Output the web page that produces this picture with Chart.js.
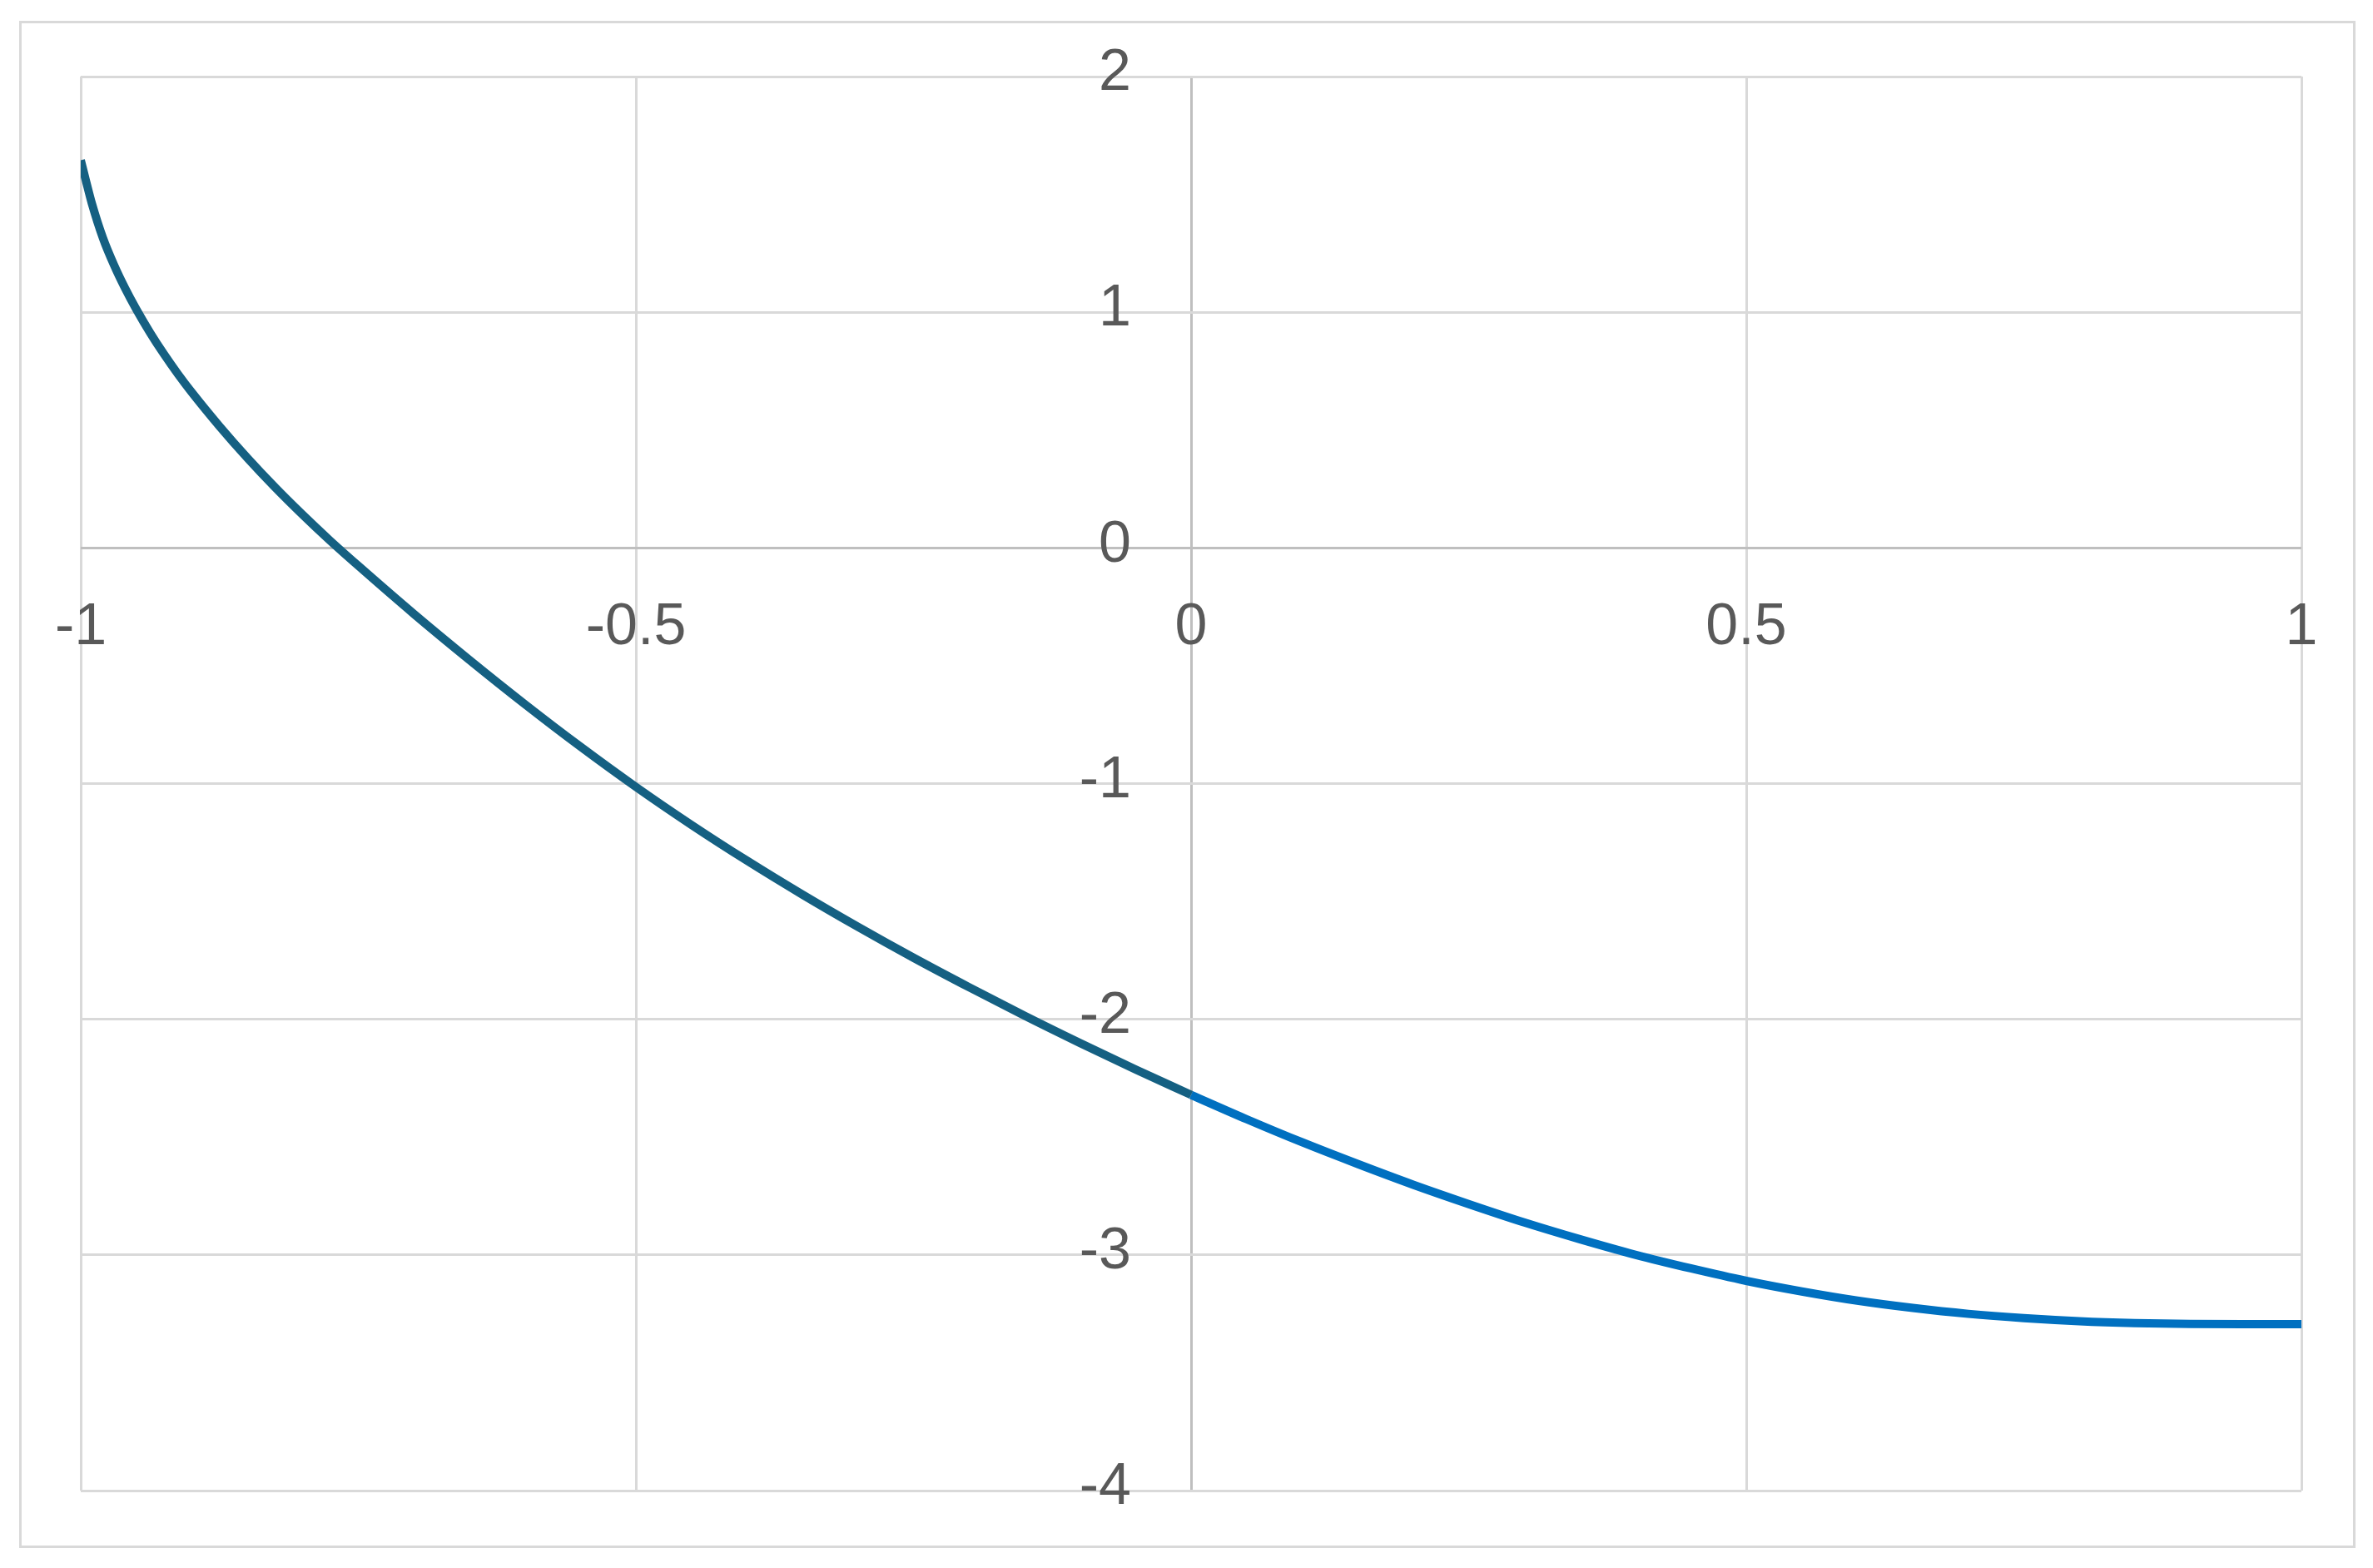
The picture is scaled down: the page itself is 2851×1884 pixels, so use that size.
<!DOCTYPE html>
<html>
<head>
<meta charset="utf-8">
<script src="https://cdn.jsdelivr.net/npm/chart.js@4/dist/chart.umd.min.js"></script>
<style>
  html, body { margin: 0; padding: 0; background: #ffffff; }
  #wrap { position: relative; width: 2851px; height: 1884px; }
  #frame { position: absolute; left: 22.5px; top: 24.5px; width: 2801px; height: 1829px; border: 3px solid #d9d9d9; box-sizing: content-box; pointer-events: none; }
  canvas { position: absolute; left: 0; top: 0; }
</style>
</head>
<body>
<div id="wrap">
  <canvas id="c" width="2851" height="1884"></canvas>
  <div id="frame"></div>
</div>
<script>
// ---- data ----
const negX = [-1, -0.995, -0.99, -0.98, -0.97, -0.96, -0.95, -0.9375, -0.925, -0.9125, -0.9, -0.875, -0.85, -0.825, -0.8, -0.775, -0.75, -0.7, -0.65, -0.6, -0.55, -0.5, -0.45, -0.4, -0.35, -0.3, -0.25, -0.2, -0.15, -0.1, -0.05, 0];
const negY = [1.645, 1.552, 1.462, 1.315, 1.2, 1.101, 1.013, 0.913, 0.822, 0.738, 0.66, 0.516, 0.382, 0.257, 0.14, 0.029, -0.076, -0.28, -0.475, -0.663, -0.843, -1.014, -1.175, -1.327, -1.471, -1.608, -1.739, -1.864, -1.985, -2.101, -2.213, -2.321];
const posX = [0, 0.05, 0.1, 0.15, 0.2, 0.25, 0.3, 0.35, 0.4, 0.45, 0.5, 0.55, 0.6, 0.65, 0.7, 0.75, 0.8, 0.85, 0.9, 0.95, 1];
const posY = [-2.321, -2.424, -2.522, -2.614, -2.702, -2.784, -2.862, -2.933, -2.999, -3.057, -3.11, -3.155, -3.194, -3.225, -3.25, -3.268, -3.281, -3.289, -3.293, -3.294, -3.294];
const xTicks = [-1, -0.5, 0, 0.5, 1];
const xTickLabels = ['-1', '-0.5', '0', '0.5', '1'];
const yTicks = [-4, -3, -2, -1, 0, 1, 2];
const yTickLabels = ['-4', '-3', '-2', '-1', '0', '1', '2'];

const toPts = (xs, ys) => xs.map((x, i) => ({ x: x, y: ys[i] }));

const labelFont = '70px "Liberation Sans", Arial, sans-serif';
const labelColor = '#595959';

const axisLabels = {
  id: 'axisLabels',
  afterDraw(chart) {
    const ctx = chart.ctx;
    const xs = chart.scales.x, ys = chart.scales.y;
    const x0 = xs.getPixelForValue(0), y0 = ys.getPixelForValue(0);
    ctx.save();
    ctx.font = labelFont;
    ctx.fillStyle = labelColor;
    ctx.textBaseline = 'middle';
    ctx.textAlign = 'center';
    xTicks.forEach((v, i) => {
      ctx.fillText(xTickLabels[i], xs.getPixelForValue(v), y0 + 96);
    });
    ctx.textAlign = 'right';
    yTicks.forEach((v, i) => {
      ctx.fillText(yTickLabels[i], x0 - 72, ys.getPixelForValue(v) - 3);
    });
    ctx.restore();
  }
};

const gridColor = (c) => (c.tick && c.tick.value === 0) ? '#bfbfbf' : '#d9d9d9';

const lineStyle = {
  showLine: true,
  borderWidth: 10,
  pointRadius: 0,
  cubicInterpolationMode: 'monotone',
  clip: 0
};

new Chart(document.getElementById('c'), {
  type: 'scatter',
  data: {
    datasets: [
      Object.assign({ data: toPts(negX, negY), borderColor: '#156082', backgroundColor: '#156082' }, lineStyle),
      Object.assign({ data: toPts(posX, posY), borderColor: '#0070C0', backgroundColor: '#0070C0' }, lineStyle)
    ]
  },
  options: {
    responsive: false,
    animation: false,
    devicePixelRatio: 1,
    layout: { autoPadding: false, padding: { left: 97, right: 86, top: 92, bottom: 93 } },
    plugins: { legend: { display: false }, tooltip: { enabled: false } },
    scales: {
      x: {
        type: 'linear', min: -1, max: 1,
        afterBuildTicks: (s) => { s.ticks = xTicks.map(v => ({ value: v })); },
        ticks: { display: false },
        grid: { color: gridColor, lineWidth: 3, drawTicks: false },
        border: { display: false }
      },
      y: {
        type: 'linear', min: -4, max: 2,
        afterBuildTicks: (s) => { s.ticks = yTicks.map(v => ({ value: v })); },
        ticks: { display: false },
        grid: { color: gridColor, lineWidth: 3, drawTicks: false },
        border: { display: false }
      }
    }
  },
  plugins: [axisLabels]
});
</script>
</body>
</html>
